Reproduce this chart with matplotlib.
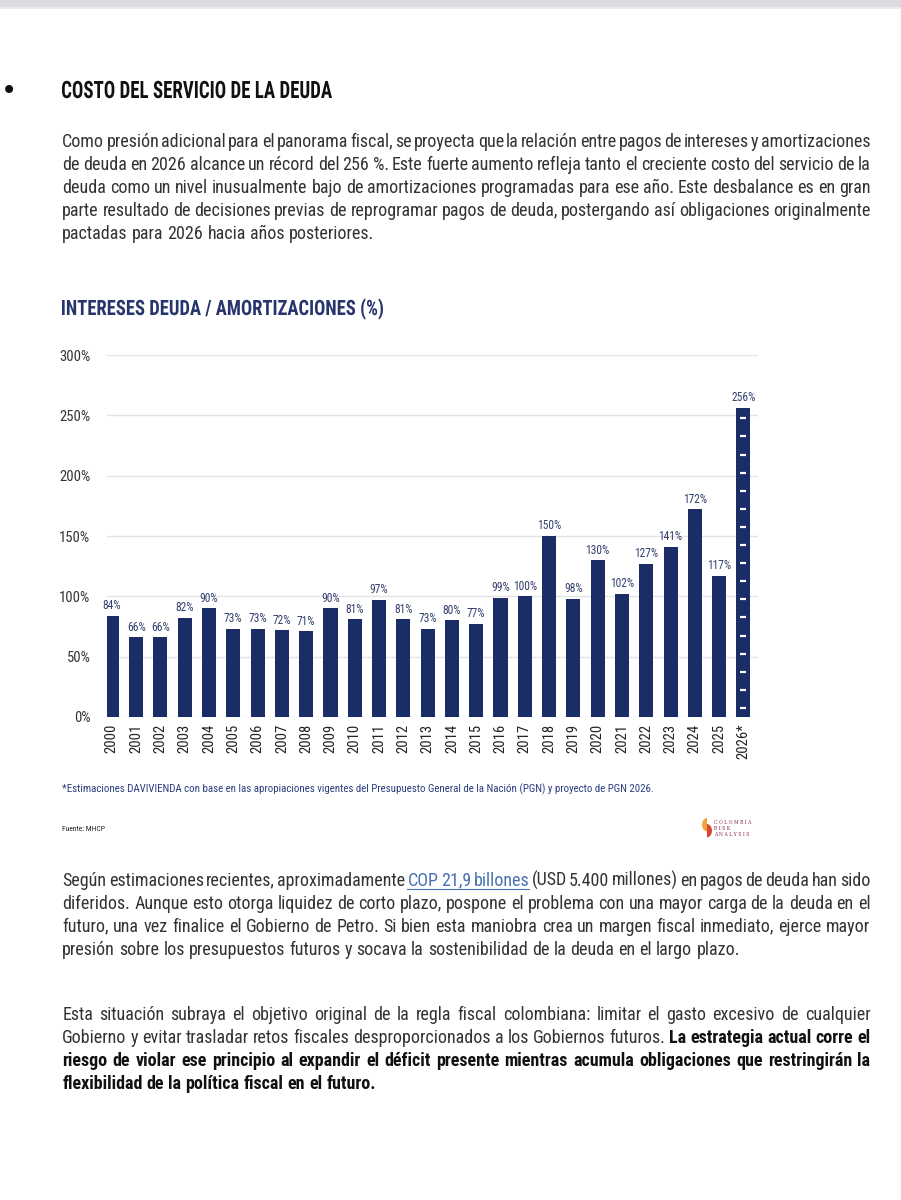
import matplotlib
matplotlib.use("Agg")
import matplotlib.pyplot as plt
from matplotlib import font_manager
from matplotlib.font_manager import FontProperties
from matplotlib.lines import Line2D
from matplotlib.patches import Rectangle, Wedge, PathPatch
from matplotlib.textpath import TextPath
from matplotlib.transforms import Affine2D
import numpy as np

# ---- data ----
years = [str(y) for y in range(2000, 2026)] + ["2026*"]
ratio = [84, 66, 66, 82, 90, 73, 73, 72, 71, 90, 81, 97, 81, 73,
         80, 77, 99, 100, 150, 98, 130, 102, 127, 141, 172, 117, 256]
y_ticks = [0, 50, 100, 150, 200, 250, 300]

# paragraph lines as (text, style) segments, style: n normal, b bold, l link
para1 = [
    [("Como presión adicional para el panorama fiscal, se proyecta que la relación entre pagos de intereses y amortizaciones", "n")],
    [("de deuda en 2026 alcance un récord del 256 %. Este fuerte aumento refleja tanto el creciente costo del servicio de la", "n")],
    [("deuda como un nivel inusualmente bajo de amortizaciones programadas para ese año. Este desbalance es en gran", "n")],
    [("parte resultado de decisiones previas de reprogramar pagos de deuda, postergando así obligaciones originalmente", "n")],
    [("pactadas para 2026 hacia años posteriores.", "n")],
]
para2 = [
    [("Según estimaciones recientes, aproximadamente", "n"), ("COP 21,9 billones", "l"),
     ("(USD 5.400 millones) en pagos de deuda han sido", "n")],
    [("diferidos. Aunque esto otorga liquidez de corto plazo, pospone el problema con una mayor carga de la deuda en el", "n")],
    [("futuro, una vez finalice el Gobierno de Petro. Si bien esta maniobra crea un margen fiscal inmediato, ejerce mayor", "n")],
    [("presión sobre los presupuestos futuros y socava la sostenibilidad de la deuda en el largo plazo.", "n")],
]
para3 = [
    [("Esta situación subraya el objetivo original de la regla fiscal colombiana: limitar el gasto excesivo de cualquier", "n")],
    [("Gobierno y evitar trasladar retos fiscales desproporcionados a los Gobiernos futuros.", "n"),
     ("La estrategia actual corre el", "b")],
    [("riesgo de violar ese principio al expandir el déficit presente mientras acumula obligaciones que restringirán la", "b")],
    [("flexibilidad de la política fiscal en el futuro.", "b")],
]

# ---- fonts ----
names = {f.name for f in font_manager.fontManager.ttflist}
body_font = "DejaVu Sans"
for cand in ["Roboto Condensed", "Liberation Sans Narrow", "Open Sans Condensed", "DejaVu Sans Condensed"]:
    if cand in names:
        body_font = cand
        break
fam = body_font

navy = "#1b2d66"
title_navy = "#26356c"
text_gray = "#333333"

W, H = 901, 1200
fig = plt.figure(figsize=(W / 100, H / 100), dpi=100)
renderer = fig.canvas.get_renderer()


def fy(y):
    # small offset keeps the pixel rounding of every word on one side
    return 1 - (y - 0.3) / H


def width_of(t):
    return t.get_window_extent(renderer).width


def space_width(size, weight):
    a = fig.text(0, 0, "a a", fontsize=size, fontweight=weight, family=fam)
    b = fig.text(0, 0, "aa", fontsize=size, fontweight=weight, family=fam)
    s = width_of(a) - width_of(b)
    a.remove()
    b.remove()
    return s


def draw_para(lines, y0, step=23, size=13, x0=62, x1=870):
    sp = space_width(size, "normal")
    for i, segs in enumerate(lines):
        y = y0 + i * step
        last = i == len(lines) - 1
        objs = []
        for txt, st in segs:
            weight = "bold" if st == "b" else "normal"
            col = "#4a72b0" if st == "l" else ("#111111" if st == "b" else text_gray)
            ws = txt.split(" ")
            for k, w in enumerate(ws):
                t = fig.text(0, fy(y), w, fontsize=size, fontweight=weight, color=col,
                             family=fam, va="baseline", ha="left")
                ul = st == "l"
                ul_next = ul and k < len(ws) - 1
                objs.append([t, width_of(t), ul, ul_next, col])
        total = sum(o[1] for o in objs)
        gap = sp if last else (x1 - x0 - total) / (len(objs) - 1)
        x = x0
        for t, w, ul, ul_next, col in objs:
            t.set_x((x + 0.3) / W)
            if ul:
                xe = x + w + (gap if ul_next else 0)
                fig.add_artist(Line2D([x / W, xe / W], [fy(y + 3)] * 2, color=col, lw=0.8))
            x += w + gap


def condensed_text(s, x, y_base, cap_px, width_px, color):
    # narrow bold heading drawn as a path squeezed to the wanted width
    prop = FontProperties(family=body_font, weight="bold")
    tp = TextPath((0, 0), s, size=100, prop=prop)
    cap = TextPath((0, 0), "H", size=100, prop=prop).get_extents().height
    ext = tp.get_extents()
    sy = cap_px / cap
    sx = width_px / ext.width
    tr = Affine2D().translate(-ext.x0, 0).scale(sx, sy).translate(x, H - y_base)
    fig.add_artist(PathPatch(tr.transform_path(tp), color=color, lw=0,
                             transform=None))


# top bar
fig.add_artist(Rectangle((0, 1 - 7 / H), 1, 7 / H, transform=fig.transFigure,
                         color="#dcdce1", lw=0))
fig.add_artist(Rectangle((0, 1 - 9 / H), 1, 2 / H, transform=fig.transFigure,
                         color="#ececef", lw=0))

# heading
fig.text(9 / W, fy(91), "\u2022", fontsize=20, color="#111111", va="center",
         ha="center", family="DejaVu Sans")
condensed_text("COSTO DEL SERVICIO DE LA DEUDA", 62, 98, 17, 270, "#111111")

draw_para(para1, 147)

# chart title
condensed_text("INTERESES DEUDA / AMORTIZACIONES (%)", 62, 315, 15, 321, title_navy)

# ---- chart ----
ax = fig.add_axes([107 / W, 1 - 717 / H, 651 / W, 362 / H])
x = np.arange(len(years))
ax.bar(x, ratio, width=0.58, color=navy, zorder=3)
dash_y = np.arange(7.5, ratio[-1], 15)
ax.plot([x[-1]] * len(dash_y), dash_y, ls="none", marker="_", ms=4.5, mew=1.6,
        color="white", zorder=4)
for xi, v in zip(x, ratio):
    ax.text(xi, v + 3, f"{v}%", ha="center", va="bottom", fontsize=8.3,
            color="#34416f", family=fam)

ax.set_xlim(-0.2, 26.6)
ax.set_ylim(0, 300)
ax.set_yticks(y_ticks)
ax.set_yticklabels([f"{v}%" for v in y_ticks], family=fam)
ax.set_xticks(x)
ax.set_xticklabels(years, rotation=90, family=fam)
ax.grid(axis="y", color="#e4e4e4", lw=1, zorder=0)
for s in ax.spines.values():
    s.set_visible(False)
ax.tick_params(axis="y", length=0, pad=12, labelsize=10.5, labelcolor=text_gray)
ax.tick_params(axis="x", length=0, pad=5, labelsize=10.5, labelcolor="#222222")

# footnotes
fig.text(62 / W, fy(793), "*Estimaciones DAVIVIENDA con base en las apropiaciones vigentes del "
         "Presupuesto General de la Nación (PGN) y proyecto de PGN 2026.",
         fontsize=7.8, color="#2b3d7d", family=fam, va="baseline")
fig.text(62 / W, fy(831), "Fuente: MHCP", fontsize=5.5, color="#222222", family=fam,
         va="baseline")

# small logo
fig.add_artist(Wedge((707 / W, fy(825)), 5 / W, 90, 270, transform=fig.transFigure,
                     color="#f2a33a", lw=0))
fig.add_artist(Wedge((707 / W, fy(831)), 5 / W, -90, 90, transform=fig.transFigure,
                     color="#d9453a", lw=0))
for i, word in enumerate(["C O L O M B I A", "R I S K", "A N A L Y S I S"]):
    fig.text(714 / W, fy(823 + i * 6), word, fontsize=3.3, color="#8a2a45",
             family="DejaVu Serif", va="center")

draw_para(para2, 886)
draw_para(para3, 1020)

fig.savefig("out.png", dpi=100)
